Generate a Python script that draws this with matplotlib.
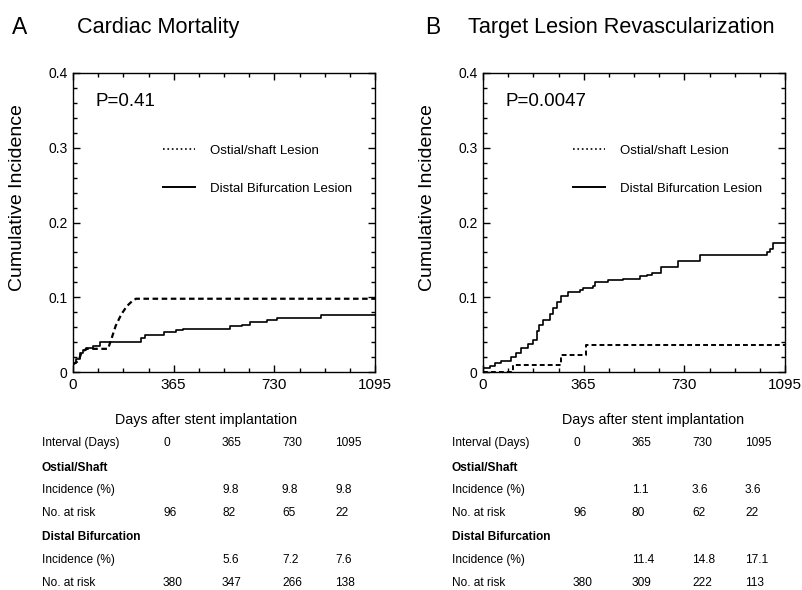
import numpy as np
import matplotlib.pyplot as plt
from matplotlib.lines import Line2D
from matplotlib.ticker import MultipleLocator

plt.rcParams['font.family'] = ['Liberation Sans', 'DejaVu Sans']

# panel A - cardiac mortality
a_ost_days = [0, 20, 30, 48, 127, 140, 155, 175, 195, 215, 228, 1095]
a_ost_inc = [0.010, 0.015, 0.025, 0.031, 0.031, 0.045, 0.062, 0.077, 0.088, 0.095, 0.098, 0.098]
a_dist_days = [0, 10, 24, 36, 48, 72, 97, 248, 260, 330, 375, 399, 569, 611, 641, 702, 738, 901, 1095]
a_dist_inc = [0.012, 0.018, 0.025, 0.030, 0.032, 0.035, 0.040, 0.046, 0.050, 0.053, 0.056, 0.058,
              0.061, 0.063, 0.067, 0.069, 0.072, 0.076, 0.076]

# panel B - target lesion revascularization
b_ost_days = [0, 109, 284, 375, 1095]
b_ost_inc = [0.0, 0.010, 0.023, 0.036, 0.036]
b_dist_days = [0, 24, 42, 67, 103, 121, 139, 163, 182, 194, 203, 218, 242, 254, 269, 284, 309, 351,
               363, 399, 405, 454, 508, 569, 593, 611, 647, 708, 786, 1029, 1041, 1053, 1095]
b_dist_inc = [0.006, 0.008, 0.012, 0.015, 0.020, 0.026, 0.032, 0.037, 0.043, 0.055, 0.063, 0.070,
              0.077, 0.085, 0.093, 0.102, 0.107, 0.110, 0.113, 0.115, 0.120, 0.123, 0.125, 0.128,
              0.130, 0.133, 0.140, 0.149, 0.157, 0.160, 0.165, 0.172, 0.172]

p_values = ["P=0.41", "P=0.0047"]
titles = ["Cardiac Mortality", "Target Lesion Revascularization"]
letters = ["A", "B"]
xticks = [0, 365, 730, 1095]
yticks = [0, 0.1, 0.2, 0.3, 0.4]
ytick_labels = ["0", "0.1", "0.2", "0.3", "0.4"]

# tables under each panel
row_labels = ["Interval (Days)", "Ostial/Shaft", "Incidence (%)", "No. at risk",
              "Distal Bifurcation", "Incidence (%)", "No. at risk"]
bold_rows = [1, 4]
intervals = ["0", "365", "730", "1095"]
a_ost_pct = ["", "9.8", "9.8", "9.8"]
a_ost_risk = ["96", "82", "65", "22"]
a_dist_pct = ["", "5.6", "7.2", "7.6"]
a_dist_risk = ["380", "347", "266", "138"]
b_ost_pct = ["", "1.1", "3.6", "3.6"]
b_ost_risk = ["96", "80", "62", "22"]
b_dist_pct = ["", "11.4", "14.8", "17.1"]
b_dist_risk = ["380", "309", "222", "113"]

W, H = 802, 590
fig = plt.figure(figsize=(W / 100, H / 100), dpi=100)

ax_left = [73, 483]
ax_top, ax_bot, ax_w = 73, 372, 302
axes = [fig.add_axes([l / W, 1 - ax_bot / H, ax_w / W, (ax_bot - ax_top) / H]) for l in ax_left]

curves = [(a_ost_days, a_ost_inc, a_dist_days, a_dist_inc),
          (b_ost_days, b_ost_inc, b_dist_days, b_dist_inc)]
tables = [[intervals, None, a_ost_pct, a_ost_risk, None, a_dist_pct, a_dist_risk],
          [intervals, None, b_ost_pct, b_ost_risk, None, b_dist_pct, b_dist_risk]]
xlabel_cx = [206, 653]
letter_x = [12, 425]
title_x = [77, 468]

for i, ax in enumerate(axes):
    od, oi, dd, di = curves[i]
    if i == 0:
        ax.plot(od, oi, color='black', lw=1.6, ls=(0, (2.5, 1.6)))
    else:
        ax.step(od, oi, where='post', color='black', lw=1.4, ls=(0, (2.5, 1.6)))
    ax.step(dd, di, where='post', color='black', lw=1.2)

    ax.set_xlim(0, 1095)
    ax.set_ylim(0, 0.4)
    ax.set_xticks(xticks, labels=[str(t) for t in xticks], fontsize=11)
    ax.set_yticks(yticks, labels=ytick_labels, fontsize=10)
    ax.xaxis.set_minor_locator(MultipleLocator(365 / 4))
    ax.yaxis.set_minor_locator(MultipleLocator(0.02))
    ax.tick_params(which='both', direction='in', top=True, right=True, width=1)
    ax.tick_params(which='major', length=5, pad=4)
    ax.tick_params(which='minor', length=3)
    for s in ax.spines.values():
        s.set_linewidth(1.0)

    ax.set_ylabel("Cumulative Incidence", fontsize=14)
    ax.yaxis.set_label_coords(-0.155, 0.585)

    ax.text(0.073, 0.905, p_values[i], transform=ax.transAxes, fontsize=13.5, va='center')

    handles = [Line2D([], [], color='black', lw=1.2, ls=':'),
               Line2D([], [], color='black', lw=1.4, ls='-')]
    ax.legend(handles, ["Ostial/shaft Lesion", "Distal Bifurcation Lesion"], frameon=False,
              loc='upper left', bbox_to_anchor=(0.26, 0.80), fontsize=9.5,
              handlelength=2.4, handletextpad=1.15, labelspacing=1.95)

    # panel letter and title
    fig.text(letter_x[i] / W, 1 - 28 / H, letters[i], fontsize=16.5, va='center')
    fig.text(title_x[i] / W, 1 - 28 / H, titles[i], fontsize=15.6, va='center')

    fig.text(xlabel_cx[i] / W, 1 - 420 / H, "Days after stent implantation",
             fontsize=10.3, ha='center', va='center')

    row_y = [443, 468, 490, 513, 537, 560, 583]
    col_x = [90, 149, 209, 262]
    for r, lab in enumerate(row_labels):
        y = 1 - row_y[r] / H
        fig.text((ax_left[i] - 31) / W, y, lab, fontsize=8.6, va='center',
                 fontweight='bold' if r in bold_rows else 'normal')
        vals = tables[i][r]
        if vals is None:
            continue
        for c, v in enumerate(vals):
            fig.text((ax_left[i] + col_x[c]) / W, y, v, fontsize=8.6, va='center')

fig.savefig("out.png", dpi=100)
